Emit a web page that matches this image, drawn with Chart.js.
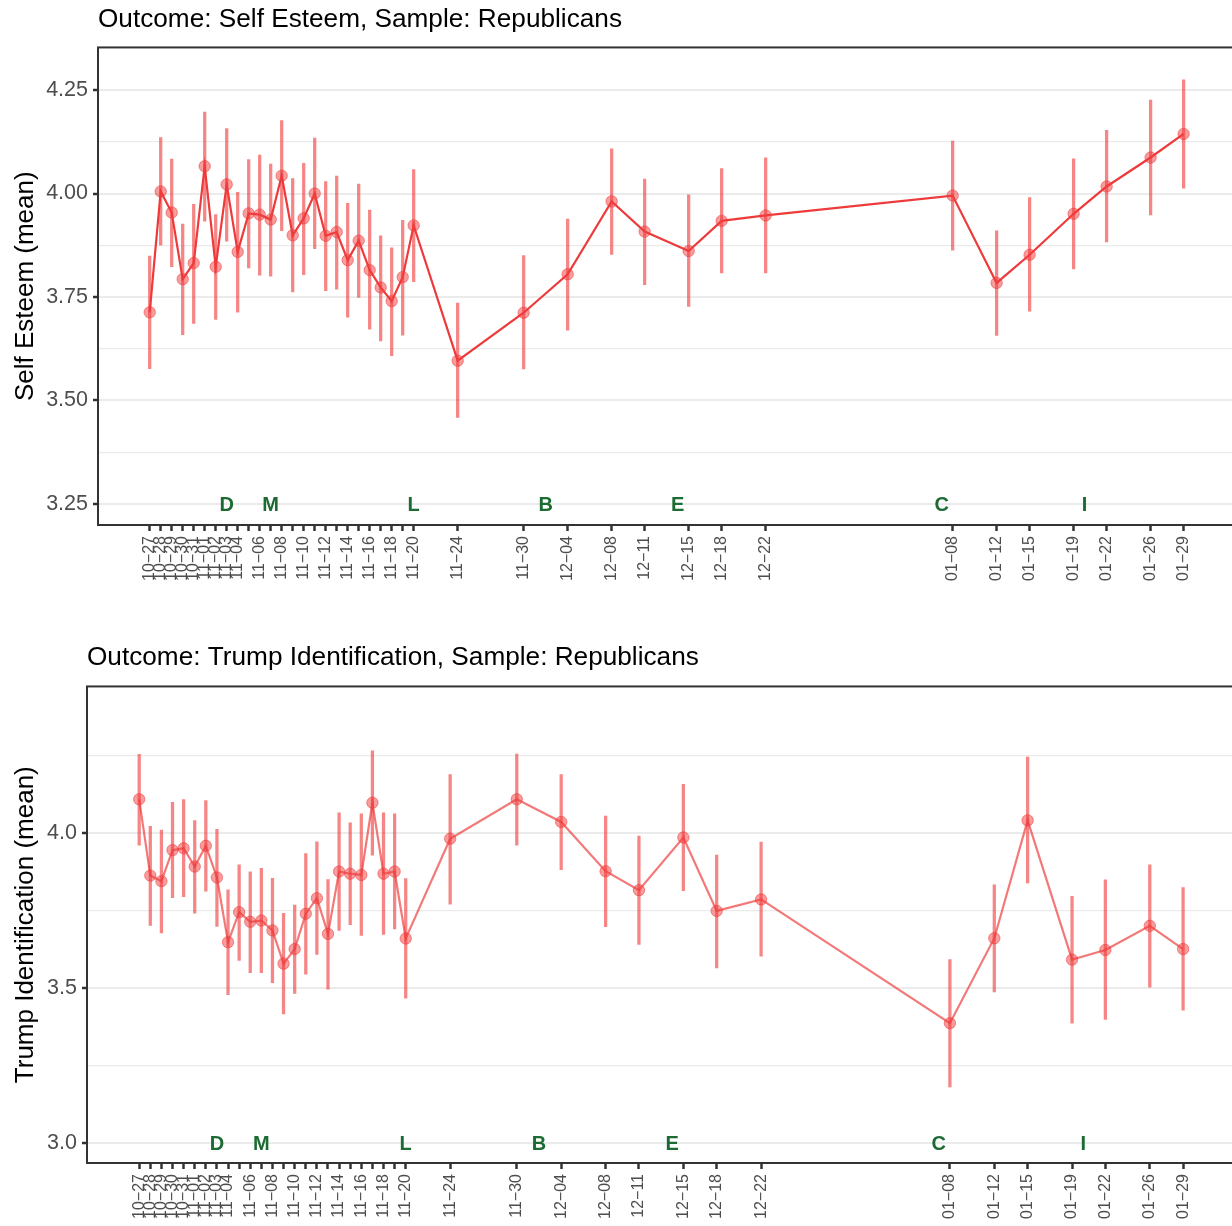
<!DOCTYPE html>
<html><head><meta charset="utf-8">
<script src="https://cdn.jsdelivr.net/npm/chart.js@4.4.1/dist/chart.umd.min.js"></script>
<style>
html,body{margin:0;padding:0;background:#fff;overflow:hidden;width:1232px;height:1226px;}
canvas{display:block;}
</style></head><body>
<canvas id="c1" width="1242" height="616"></canvas>
<canvas id="c2" width="1242" height="610"></canvas>
<script>
const dates = [
  "2020-10-27","2020-10-28","2020-10-29","2020-10-30","2020-10-31",
  "2020-11-01","2020-11-02","2020-11-03","2020-11-04","2020-11-05",
  "2020-11-06","2020-11-07","2020-11-08","2020-11-09","2020-11-10",
  "2020-11-11","2020-11-12","2020-11-13","2020-11-14","2020-11-15",
  "2020-11-16","2020-11-17","2020-11-18","2020-11-19","2020-11-20",
  "2020-11-24","2020-11-30","2020-12-04","2020-12-08","2020-12-11",
  "2020-12-15","2020-12-18","2020-12-22","2021-01-08","2021-01-12",
  "2021-01-15","2021-01-19","2021-01-22","2021-01-26","2021-01-29"
];
const xTickLabels = [
  "10\u221227","10\u221228","10\u221229","10\u221230","10\u221231",
  "11\u221201","11\u221202","11\u221203","11\u221204","",
  "11\u221206","","11\u221208","","11\u221210",
  "","11\u221212","","11\u221214","",
  "11\u221216","","11\u221218","","11\u221220",
  "11\u221224","11\u221230","12\u221204","12\u221208","12\u221211",
  "12\u221215","12\u221218","12\u221222","01\u221208","01\u221212",
  "01\u221215","01\u221219","01\u221222","01\u221226","01\u221229"
];

const esteemMean = [3.713,4.005,3.954,3.793,3.832,4.066,3.823,4.022,3.859,3.952,
  3.949,3.937,4.043,3.899,3.940,4.000,3.898,3.907,3.839,3.886,
  3.815,3.773,3.740,3.798,3.923,3.596,3.712,3.805,3.981,3.908,
  3.861,3.934,3.947,3.995,3.784,3.852,3.951,4.017,4.087,4.144];
const esteemLow = [3.577,3.875,3.823,3.659,3.686,3.933,3.696,3.885,3.713,3.820,
  3.803,3.800,3.910,3.762,3.804,3.867,3.765,3.769,3.701,3.749,
  3.672,3.644,3.608,3.658,3.787,3.459,3.576,3.670,3.853,3.780,
  3.727,3.808,3.808,3.863,3.657,3.716,3.818,3.883,3.948,4.013];
const esteemHigh = [3.849,4.135,4.083,3.926,3.974,4.197,3.949,4.157,4.003,4.082,
  4.093,4.071,4.176,4.036,4.073,4.134,4.029,4.042,3.976,4.023,
  3.960,3.898,3.869,3.935,4.058,3.735,3.850,3.938,4.108,4.035,
  3.997,4.060,4.086,4.127,3.910,3.990,4.084,4.153,4.226,4.275];

const trumpMean = [4.108,3.862,3.844,3.944,3.950,3.891,3.958,3.856,3.647,3.744,
  3.713,3.717,3.685,3.578,3.625,3.739,3.789,3.674,3.875,3.868,
  3.864,4.097,3.868,3.875,3.659,3.981,4.108,4.035,3.876,3.815,
  3.985,3.748,3.785,3.386,3.660,4.040,3.591,3.622,3.700,3.625];
const trumpLow = [3.960,3.701,3.677,3.791,3.794,3.741,3.812,3.698,3.478,3.588,
  3.549,3.549,3.517,3.416,3.482,3.544,3.608,3.496,3.685,3.704,
  3.669,3.928,3.672,3.690,3.467,3.770,3.960,3.881,3.697,3.640,
  3.813,3.564,3.602,3.180,3.487,3.838,3.386,3.398,3.502,3.428];
const trumpHigh = [4.253,4.021,4.009,4.098,4.107,4.039,4.104,4.011,3.816,3.897,
  3.874,3.885,3.853,3.740,3.767,3.933,3.971,3.849,4.064,4.032,
  4.061,4.264,4.064,4.061,3.852,4.188,4.254,4.188,4.054,3.989,
  4.156,3.928,3.970,3.591,3.832,4.244,3.795,3.848,3.897,3.823];

const eventDates = ["2020-11-03","2020-11-07","2020-11-20","2020-12-02","2020-12-14","2021-01-07","2021-01-20"];
const eventLetters = ["D","M","L","B","E","C","I"];

const esteemYTicks = [3.25,3.375,3.5,3.625,3.75,3.875,4.0,4.125,4.25];
const esteemYTickLabels = ["3.25","","3.50","","3.75","","4.00","","4.25"];
const trumpYTicks = [3.0,3.25,3.5,3.75,4.0,4.25];
const trumpYTickLabels = ["3.0","","3.5","","4.0",""];

const FONT = '"Liberation Sans", Arial, Helvetica, sans-serif';
const DAY0 = Date.parse("2020-10-27T00:00:00Z");
const dayOf = s => (Date.parse(s + "T00:00:00Z") - DAY0) / 86400000;
const xDays = dates.map(dayOf);

const framePlugin = {
  id: 'frame',
  afterDatasetsDraw(chart) {
    const {ctx, chartArea: a} = chart;
    ctx.save();
    ctx.strokeStyle = '#333333';
    ctx.lineWidth = 2;
    ctx.strokeRect(a.left, a.top, a.right - a.left, a.bottom - a.top);
    ctx.restore();
  }
};
const eventPlugin = {
  id: 'events',
  afterDatasetsDraw(chart, args, opts) {
    const {ctx} = chart;
    const xs = chart.scales.x, ys = chart.scales.y;
    ctx.save();
    ctx.fillStyle = '#1B6B33';
    ctx.font = 'bold 20px ' + FONT;
    ctx.textAlign = 'center';
    ctx.textBaseline = 'middle';
    const yp = ys.getPixelForValue(opts.yValue);
    eventDates.forEach((d, i) => {
      ctx.fillText(eventLetters[i], xs.getPixelForValue(dayOf(d)), yp + 2);
    });
    ctx.restore();
  }
};

function build(id, p) {
  const majorSet = new Set(p.yTicks.filter((v, i) => p.yTickLabels[i] !== ''));
  return new Chart(document.getElementById(id), {
    type: 'line',
    data: {
      datasets: [
        {
          type: 'line',
          order: 1,
          data: xDays.map((x, i) => ({x, y: p.mean[i]})),
          borderColor: p.lineColor,
          borderWidth: 2.2,
          pointRadius: 5.7,
          pointHoverRadius: 5.7,
          pointBackgroundColor: 'rgba(240,60,60,0.5)',
          pointBorderColor: 'rgba(240,60,60,0.55)',
          pointBorderWidth: 1,
          tension: 0
        },
        {
          type: 'bar',
          order: 2,
          data: xDays.map((x, i) => ({x, y: [p.low[i], p.high[i]]})),
          backgroundColor: 'rgba(240,60,60,0.62)',
          borderWidth: 0,
          barThickness: 2.6,
          grouped: false
        }
      ]
    },
    options: {
      responsive: false,
      animation: false,
      events: [],
      layout: {padding: {left: 0, right: 1, top: 0, bottom: 0}},
      plugins: {
        legend: {display: false},
        tooltip: {enabled: false},
        title: {
          display: true, text: p.title, align: 'start', fullSize: false,
          color: '#000', font: {family: FONT, size: 26.2, weight: 'normal', lineHeight: 1.2},
          padding: p.titlePad
        },
        events: {yValue: p.eventY}
      },
      scales: {
        x: {
          type: 'linear', min: -4.7, max: 98.7, offset: false,
          afterBuildTicks: s => { s.ticks = xDays.map(v => ({value: v})); },
          afterFit: s => { s.height = p.xHeight; },
          border: {display: false},
          grid: {display: true, drawOnChartArea: false, drawTicks: true, tickLength: 6, tickColor: '#333333', tickWidth: 2.5, offset: false},
          ticks: {
            autoSkip: false, maxRotation: 90, minRotation: 90, padding: 5,
            color: '#4D4D4D', font: {family: FONT, size: 16},
            callback: (v, i) => xTickLabels[i]
          }
        },
        y: {
          type: 'linear', min: p.yMin, max: p.yMax,
          afterBuildTicks: s => { s.ticks = p.yTicks.map(v => ({value: v})); },
          afterFit: s => { s.width = p.yWidth; },
          border: {display: false},
          grid: {
            color: '#EBEBEB',
            lineWidth: c => majorSet.has(c.tick.value) ? 2 : 1.2,
            drawTicks: true, tickLength: 5,
            tickColor: c => majorSet.has(c.tick.value) ? '#333333' : 'rgba(0,0,0,0)',
            tickWidth: 2.5
          },
          ticks: {
            autoSkip: false, padding: 5, color: '#4D4D4D', font: {family: FONT, size: 21.5},
            callback: (v, i) => p.yTickLabels[i]
          },
          title: {
            display: true, text: p.yTitle, color: '#000',
            font: {family: FONT, size: 26, lineHeight: 1.2}, padding: {top: 10, bottom: 0}
          }
        }
      }
    },
    plugins: [framePlugin, eventPlugin]
  });
}

build('c1', {
  title: 'Outcome: Self Esteem, Sample: Republicans',
  yTitle: 'Self Esteem (mean)',
  mean: esteemMean, low: esteemLow, high: esteemHigh,
  yMin: 3.199, yMax: 4.353, yTicks: esteemYTicks, yTickLabels: esteemYTickLabels,
  lineColor: '#EE3A3A', yWidth: 98, xHeight: 91,
  titlePad: {top: 4, bottom: 12}, eventY: 3.25
});
build('c2', {
  title: 'Outcome: Trump Identification, Sample: Republicans',
  yTitle: 'Trump Identification (mean)',
  mean: trumpMean, low: trumpLow, high: trumpHigh,
  yMin: 2.935, yMax: 4.472, yTicks: trumpYTicks, yTickLabels: trumpYTickLabels,
  lineColor: 'rgba(238,58,58,0.68)', yWidth: 87, xHeight: 63,
  titlePad: {top: 26, bottom: 13}, eventY: 3.0
});
</script>
</body></html>
